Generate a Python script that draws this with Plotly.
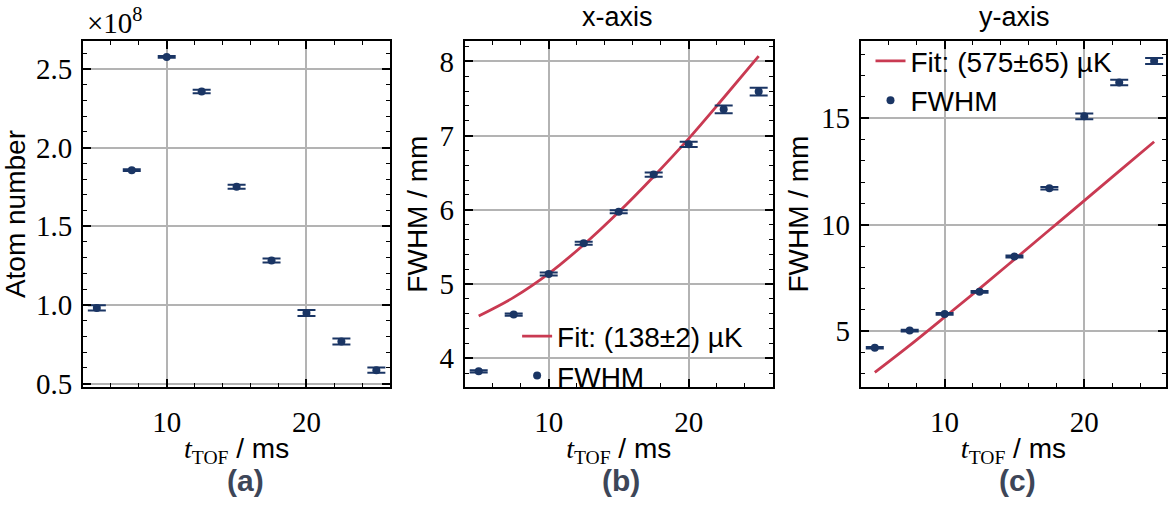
import plotly.graph_objects as go

# ---------------- data ----------------
t_tof = [5, 7.5, 10, 12.5, 15, 17.5, 20, 22.5, 25]

atom_number = [0.981, 1.857, 2.577, 2.357, 1.751, 1.282, 0.948, 0.768, 0.585]   # x 1e8
atom_err = [0.016, 0.006, 0.006, 0.011, 0.013, 0.013, 0.019, 0.019, 0.017]

fwhm_x = [3.824, 4.588, 5.135, 5.549, 5.974, 6.475, 6.882, 7.354, 7.593]
fwhm_x_err = [0.015, 0.015, 0.02, 0.02, 0.02, 0.028, 0.035, 0.052, 0.052]
fit_x = [4.57, 4.82, 5.14, 5.53, 5.97, 6.45, 6.96, 7.51, 8.07]

fwhm_y = [4.22, 5.03, 5.81, 6.85, 8.51, 11.71, 15.09, 16.68, 17.69]
fwhm_y_err = [0.04, 0.04, 0.04, 0.04, 0.05, 0.06, 0.13, 0.13, 0.14]
fit_y = [3.06, 4.33, 5.66, 7.00, 8.37, 9.75, 11.13, 12.52, 13.90]

fit_x_label = "Fit: (138\u00b12) \u00b5K"
fit_y_label = "Fit: (575\u00b165) \u00b5K"
panel_labels = ["(a)", "(b)", "(c)"]
panel_titles = ["x-axis", "y-axis"]

# ---------------- style ----------------
NAVY = "#1a3564"
RED = "#c93a52"
GRID = "#b3b3b3"
SANS = "Liberation Sans"
SERIF = "Liberation Serif"
W, H = 1168, 509

def px(x):
    return x / W

def py(y):
    return (H - y) / H

fig = go.Figure()

def data_trace(y, err, xa, ya, legend=None, show=False):
    return go.Scatter(
        x=t_tof, y=y, mode="markers", name="FWHM",
        marker=dict(color=NAVY, size=8),
        error_y=dict(type="data", array=err, visible=True, color=NAVY,
                     thickness=2, width=9),
        xaxis=xa, yaxis=ya, showlegend=show, legend=legend,
    )

def fit_trace(y, name, xa, ya, legend):
    return go.Scatter(
        x=t_tof, y=y, mode="lines", name=name, line_shape="spline",
        line=dict(color=RED, width=2.8),
        xaxis=xa, yaxis=ya, showlegend=True, legend=legend,
    )

fig.add_trace(data_trace(atom_number, atom_err, "x", "y"))
fig.add_trace(fit_trace(fit_x, fit_x_label, "x2", "y2", "legend"))
fig.add_trace(data_trace(fwhm_x, fwhm_x_err, "x2", "y2", "legend", True))
fig.add_trace(fit_trace(fit_y, fit_y_label, "x3", "y3", "legend2"))
fig.add_trace(data_trace(fwhm_y, fwhm_y_err, "x3", "y3", "legend2", True))

ydom = [py(396.5), py(42)]
xdoms = [[px(83), px(391)], [px(465.5), px(774)], [px(862.3), 1.0]]

xtitle = (f'<span style="font-family:{SERIF}"><i>t</i><sub>TOF</sub></span> / ms')

common_axis = dict(
    showline=True, linecolor="black", linewidth=1.8, mirror="ticks",
    ticks="inside", ticklen=8, tickwidth=1.5, tickcolor="black",
    showgrid=True, gridcolor=GRID, gridwidth=2, zeroline=False,
    tickfont=dict(family=SERIF, size=29, color="black"),
)

xranges = [[4, 26], [4, 26], [4, 25.85]]
for i, key in enumerate(["xaxis", "xaxis2", "xaxis3"]):
    anchor = ["y", "y2", "y3"][i]
    fig.layout[key] = dict(
        common_axis, domain=xdoms[i], anchor=anchor, range=xranges[i],
        tick0=0, dtick=10, ticklabelstandoff=8,
        minor=dict(dtick=2, tick0=0, ticks="inside", ticklen=4, tickwidth=1.2,
                   tickcolor="black", showgrid=False),
        title=dict(text=xtitle, font=dict(family=SANS, size=28, color="black"),
                   standoff=2),
    )

ycfg = [
    dict(range=[0.477, 2.678], tick0=0.5, dtick=0.5, tickformat=".1f", minor_dtick=0.1,
         title="Atom number", standoff=9),
    dict(range=[3.61, 8.275], tick0=0, dtick=1, tickformat="d", minor_dtick=0.2,
         title="FWHM / mm", standoff=4),
    dict(range=[2.37, 18.63], tick0=0, dtick=5, tickformat="d", minor_dtick=1,
         title="FWHM / mm", standoff=4),
]
for i, key in enumerate(["yaxis", "yaxis2", "yaxis3"]):
    c = ycfg[i]
    anchor = ["x", "x2", "x3"][i]
    fig.layout[key] = dict(
        common_axis, domain=ydom, anchor=anchor, range=c["range"],
        tick0=c["tick0"], dtick=c["dtick"], tickformat=c["tickformat"],
        ticklabelstandoff=3,
        minor=dict(dtick=c["minor_dtick"], tick0=0, ticks="inside", ticklen=4,
                   tickwidth=1.2, tickcolor="black", showgrid=False),
        title=dict(text=c["title"], font=dict(family=SANS, size=28, color="black"),
                   standoff=c["standoff"]),
    )

legend_common = dict(
    bgcolor="rgba(0,0,0,0)", borderwidth=0,
    font=dict(family=SANS, size=28, color="black"),
    xanchor="left", yanchor="top", itemwidth=30, traceorder="normal",
)
fig.update_layout(
    legend=dict(legend_common, x=px(518), y=py(319)),
    legend2=dict(legend_common, x=px(872), y=py(37)),
)

annotations = [
    dict(text="\u00d710<sup>8</sup>", x=px(85), y=py(22), xref="paper", yref="paper",
         xanchor="left", yanchor="middle", showarrow=False,
         font=dict(family=SERIF, size=29, color="black")),
]
for txt, xc in zip(panel_titles, [619, 1016]):
    annotations.append(dict(text=txt, x=px(xc), y=py(17), xref="paper", yref="paper",
                            xanchor="center", yanchor="middle", showarrow=False,
                            font=dict(family=SANS, size=27, color="black")))
for txt, xc in zip(panel_labels, [246, 622, 1019]):
    annotations.append(dict(text=f"<b>{txt}</b>", x=px(xc), y=py(492), xref="paper",
                            yref="paper", xanchor="center", yanchor="middle",
                            showarrow=False,
                            font=dict(family=SANS, size=30, color="#3d4658")))

fig.update_layout(
    width=W, height=H, margin=dict(l=0, r=0, t=0, b=0),
    paper_bgcolor="white", plot_bgcolor="white",
    annotations=annotations,
)

fig.write_html("out.html")
